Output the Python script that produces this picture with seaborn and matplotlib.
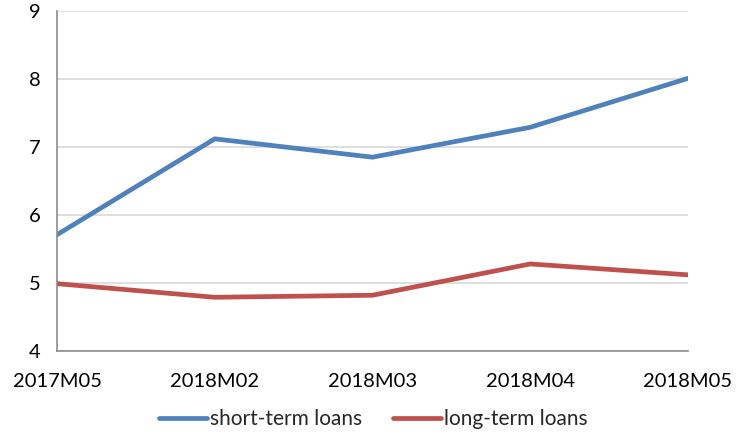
import matplotlib
matplotlib.use("Agg")
import matplotlib.pyplot as plt
import seaborn as sns
import pandas as pd

periods = ["2017M05", "2018M02", "2018M03", "2018M04", "2018M05"]
short_term = [5.71, 7.12, 6.85, 7.29, 8.01]
long_term = [4.99, 4.79, 4.82, 5.28, 5.12]

df = pd.DataFrame({
    "period": periods * 2,
    "value": short_term + long_term,
    "series": ["short-term loans"] * len(periods) + ["long-term loans"] * len(periods),
})

sns.set_style("white")
plt.rcParams["font.family"] = ["Lato", "DejaVu Sans"]

fig = plt.figure(figsize=(7.47, 4.34), dpi=100)
ax = fig.add_axes([57 / 747, 1 - 351 / 434, (688 - 57) / 747, (351 - 11) / 434])

palette = {"short-term loans": "#4F81BD", "long-term loans": "#C0504D"}
df["x"] = df["period"].map({p: i for i, p in enumerate(periods)})
sns.lineplot(data=df, x="x", y="value", hue="series", palette=palette,
             linewidth=3.4, ax=ax, legend=True, sort=False)

ax.set_xlim(0, len(periods) - 1)
ax.set_ylim(4, 9)
ax.set_xticks(range(len(periods)))
ax.set_xticklabels(periods)
ax.set_yticks(range(4, 10))
ax.set_xlabel("")
ax.set_ylabel("")

ax.grid(axis="y", color="#D9D9D9", linewidth=1.2)
ax.set_axisbelow(True)
for s in ["top", "right"]:
    ax.spines[s].set_visible(False)
for s in ["left", "bottom"]:
    ax.spines[s].set_color("#8C8C8C")
    ax.spines[s].set_linewidth(1.2)

ax.tick_params(axis="both", which="major", length=5, width=1.2, color="#8C8C8C",
               labelsize=14.5, labelcolor="black", direction="out")
ax.tick_params(axis="x", pad=11)
ax.tick_params(axis="y", pad=7)

handles, labels = ax.get_legend_handles_labels()
ax.legend(handles, labels, loc="center", bbox_to_anchor=(0.5, (434 - 419) / 434),
          bbox_transform=fig.transFigure, ncol=2, frameon=False, fontsize=15,
          handlelength=2.3, handletextpad=0.15, columnspacing=1.5)

fig.savefig("out.png", dpi=100)
